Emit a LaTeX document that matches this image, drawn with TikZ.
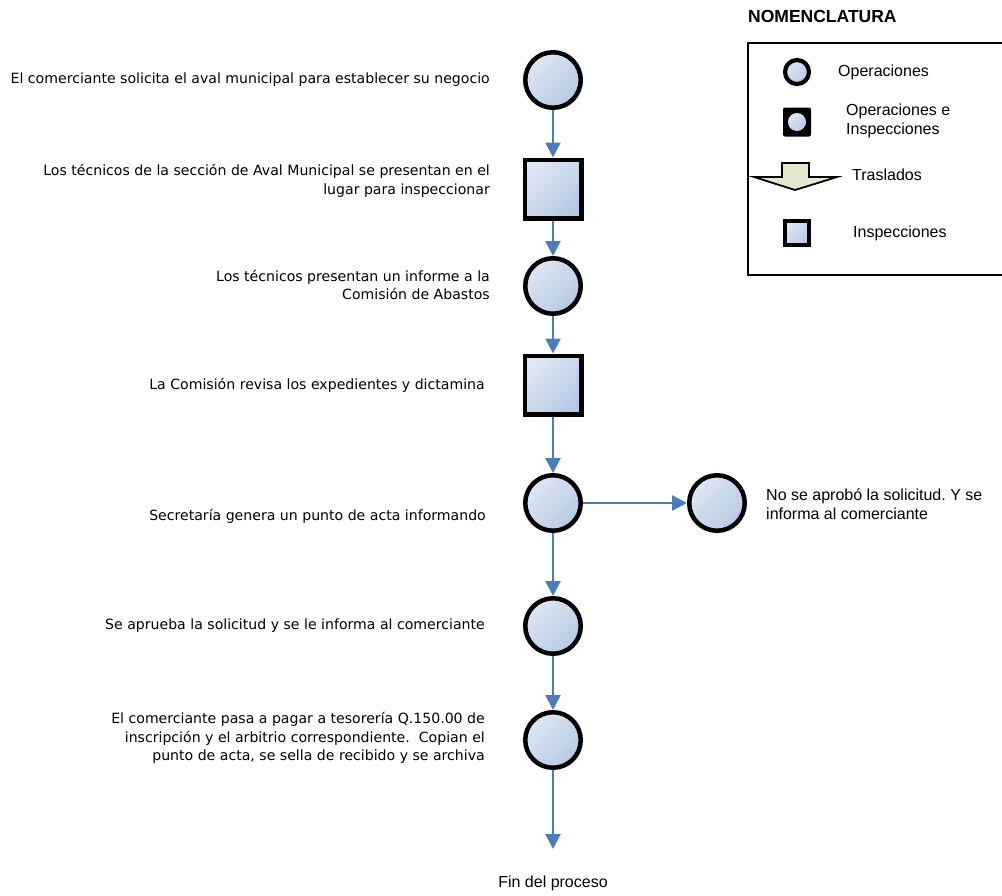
\documentclass[tikz,border=0pt]{standalone}
\usepackage{fontspec}
\setmainfont{DejaVu Sans}
\newfontfamily\arialf{Liberation Sans}
\usetikzlibrary{arrows.meta}
\frenchspacing

\definecolor{gradlight}{RGB}{222,231,243}
\definecolor{graddark}{RGB}{182,201,227}
\definecolor{flowblue}{RGB}{74,126,187}
\definecolor{movefill}{RGB}{226,232,206}

\tikzset{
  gradfill/.style={top color=gradlight, bottom color=graddark, shading angle=45},
  opnode/.style={circle, draw=black, line width=4.5pt, gradfill, minimum size=55.5pt, inner sep=0pt},
  inspnode/.style={rectangle, draw=black, line width=4.5pt, gradfill, minimum width=56.5pt, minimum height=58.5pt, inner sep=0pt},
  flow/.style={draw=flowblue, line width=2.4pt, -{Triangle[length=15pt,width=15pt]}},
  steptext/.style={font=\fontsize{14.1pt}{18.5pt}\selectfont, align=right, anchor=east, inner sep=0pt},
  legtext/.style={font=\arialf\fontsize{16pt}{18.5pt}\selectfont, align=left, anchor=west, inner sep=0pt},
  legop/.style={circle, draw=black, line width=4.2pt, gradfill, minimum size=24pt, inner sep=0pt},
  leginsp/.style={rectangle, draw=black, line width=4.2pt, gradfill, minimum size=24pt, inner sep=0pt}
}

\begin{document}
\begin{tikzpicture}[x=1pt, y=-1pt]
\useasboundingbox (0,0) rectangle (1002,895);

% main process column
\node[opnode]   (op1) at (553,80)  {};
\node[inspnode] (in1) at (553,189) {};
\node[opnode]   (op2) at (553,286) {};
\node[inspnode] (in2) at (553,385) {};
\node[opnode]   (op3) at (553,503) {};
\node[opnode]   (opr) at (717,503) {};
\node[opnode]   (op4) at (553,626) {};
\node[opnode]   (op5) at (553,740) {};
\coordinate (fin) at (553,849);

\draw[flow] (op1) -- (in1);
\draw[flow] (in1) -- (op2);
\draw[flow] (op2) -- (in2);
\draw[flow] (in2) -- (op3);
\draw[flow] (op3) -- (opr);
\draw[flow] (op3) -- (op4);
\draw[flow] (op4) -- (op5);
\draw[flow] (op5) -- (fin);

% step descriptions
\node[steptext] (t1) at (490,80) {El comerciante solicita el aval municipal para establecer su negocio};
\node[steptext] (t2) at (490,181) {Los técnicos de la sección de Aval Municipal se presentan en el\\lugar para inspeccionar};
\node[steptext] (t3) at (490,285) {Los técnicos presentan un informe a la\\Comisión de Abastos};
\node[steptext] (t4) at (485,385) {La Comisión revisa los expedientes y dictamina};
\node[steptext] (t5) at (486,516) {Secretaría genera un punto de acta informando};
\node[steptext] (t6) at (485,626) {Se aprueba la solicitud y se le informa al comerciante};
\node[steptext] (t7) at (485,738) {El comerciante pasa a pagar a tesorería Q.150.00 de\\inscripción y el arbitrio correspondiente.\ \ Copian el\\punto de acta, se sella de recibido y se archiva};
\node[legtext] (tr) at (766,504) {No se aprobó la solicitud. Y se\\informa al comerciante};
\node[legtext, anchor=center] (tfin) at (553,883) {Fin del proceso};

% legend
\node[anchor=west, inner sep=0pt, font=\arialf\bfseries\fontsize{17.5pt}{20pt}\selectfont] (legtitle) at (748,16) {NOMENCLATURA};
\draw[line width=2pt] (1002,43) -- (748,43) -- (748,275) -- (1002,275);

\node[legop] (lg1) at (797,72) {};
\node[legtext] (lt1) at (838,72) {Operaciones};

\node[rectangle, fill=black, rounded corners=2pt, minimum width=28pt, minimum height=29pt, inner sep=0pt] (lg2) at (797,122) {};
\node[circle, gradfill, minimum size=18pt, inner sep=0pt] (lg2c) at (lg2.center) {};
\node[legtext] (lt2) at (846,121) {Operaciones e\\Inspecciones};

\draw[line width=1.8pt, fill=movefill] (782,163) -- (809,163) -- (809,177) -- (837,177) -- (795,190) -- (754,177) -- (782,177) -- cycle;
\node[legtext] (lt3) at (852,175) {Traslados};

\node[leginsp] (lg4) at (797,233) {};
\node[legtext] (lt4) at (853,233) {Inspecciones};
\end{tikzpicture}
\end{document}
